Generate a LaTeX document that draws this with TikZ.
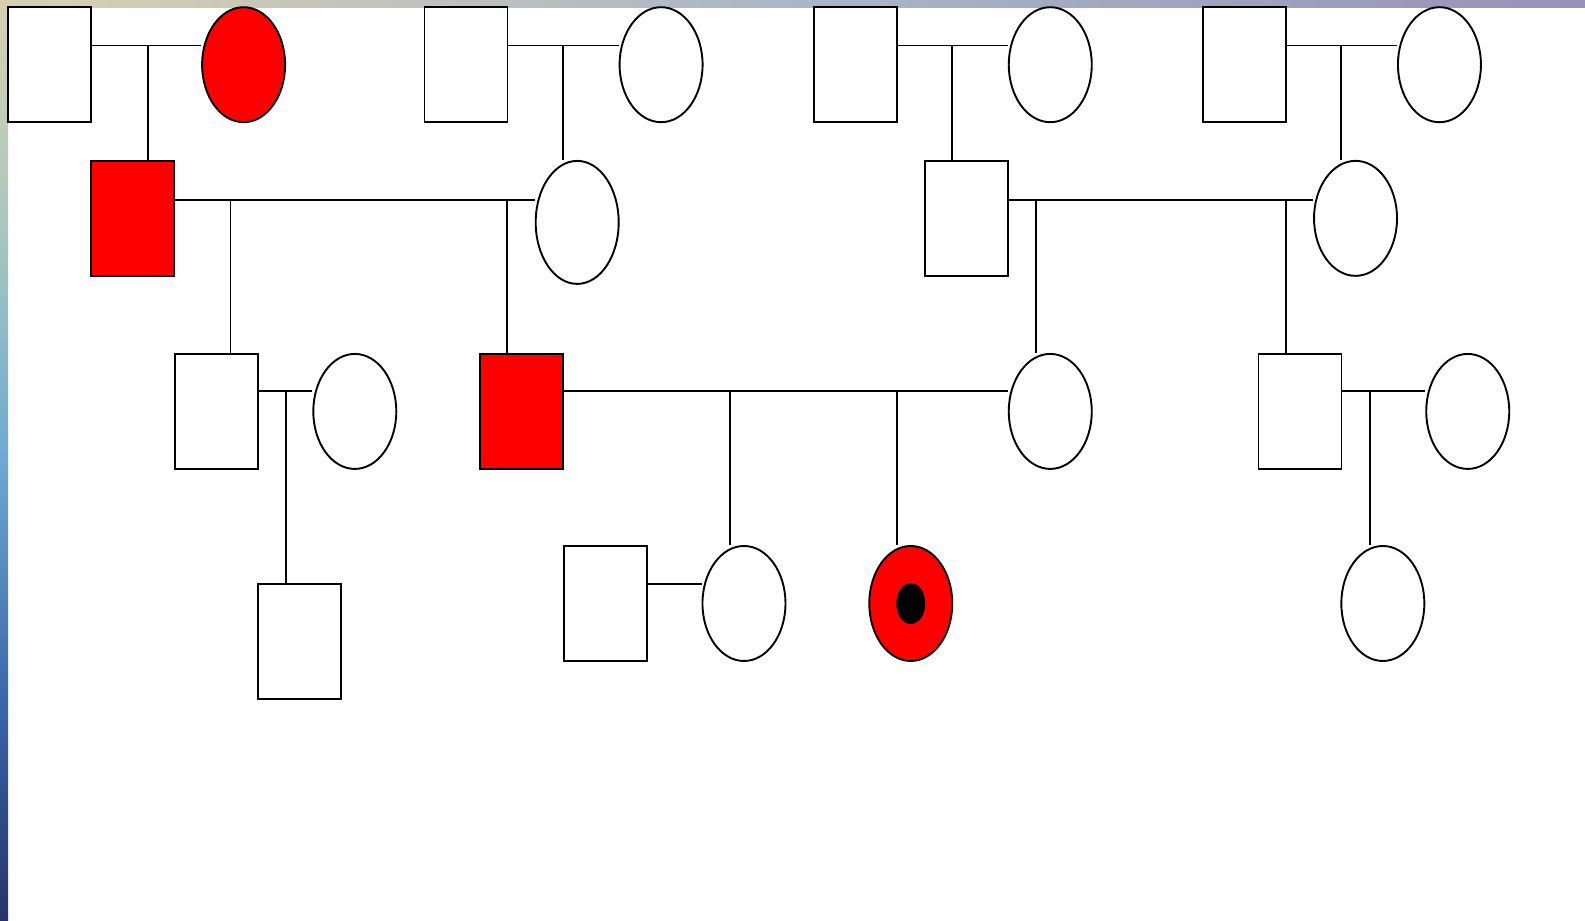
\documentclass[tikz,border=0pt]{standalone}
\usetikzlibrary{shapes.geometric}
\begin{document}
\begin{tikzpicture}[x=1.0108pt,y=-1.0108pt,
  male/.style={draw=black,line width=1.9pt,rectangle,minimum width=83pt,minimum height=115pt,inner sep=0pt,fill=white},
  female/.style={draw=black,line width=1.9pt,ellipse,minimum width=83pt,minimum height=115pt,inner sep=0pt,fill=white},
  aff/.style={fill=red},
  link/.style={draw=black,line width=1.9pt}]
\useasboundingbox (0,0) rectangle (1568,910.2);
\fill[white] (0,0) rectangle (1568,910.2);
% decorative strips
\shade[left color={rgb,255:red,216;green,208;blue,176},right color={rgb,255:red,168;green,182;blue,200}] (0,0) rectangle (800,7);
\shade[left color={rgb,255:red,168;green,182;blue,200},right color={rgb,255:red,152;green,146;blue,184}] (800,0) rectangle (1568,7);
\shade[top color={rgb,255:red,216;green,208;blue,176},bottom color={rgb,255:red,170;green,200;blue,190}] (0,0) rectangle (8,220);
\shade[top color={rgb,255:red,170;green,200;blue,190},bottom color={rgb,255:red,110;green,170;blue,210}] (0,220) rectangle (8,450);
\shade[top color={rgb,255:red,110;green,170;blue,210},bottom color={rgb,255:red,58;green,100;blue,170}] (0,450) rectangle (8,700);
\shade[top color={rgb,255:red,58;green,100;blue,170},bottom color={rgb,255:red,38;green,52;blue,105}] (0,700) rectangle (8,910.2);
% generation I
\node[male] (A) at (49,64) {};
\node[female,aff] (B) at (241,64) {};
\node[male] (C) at (461,64) {};
\node[female] (D) at (654,64) {};
\node[male] (E) at (846,64) {};
\node[female] (F) at (1039,64) {};
\node[male] (G) at (1231,64) {};
\node[female] (H) at (1424,64) {};
% generation II
\node[male,aff] (I) at (131,216) {};
\node[female,minimum height=123pt] (J) at (571,220) {};
\node[male] (K) at (956,216) {};
\node[female] (L) at (1341,216) {};
% generation III
\node[male] (M) at (214,407) {};
\node[female] (N) at (351,407) {};
\node[male,aff] (O) at (516,407) {};
\node[female] (P) at (1039,407) {};
\node[male] (Q) at (1286,407) {};
\node[female] (R) at (1452,407) {};
% generation IV
\node[male] (S) at (296,635) {};
\node[male] (T) at (599,597) {};
\node[female] (U) at (736,597) {};
\node[female,aff] (V) at (901,597) {};
\node[ellipse,fill=black,minimum width=29pt,minimum height=41pt,inner sep=0pt] (Vd) at (V.center) {};
\node[female] (W) at (1368,597) {};
% coordinates of marriage / sibship lines
\coordinate (m1) at (146,45);
\coordinate (m2) at (557,45);
\coordinate (m3) at (942,45);
\coordinate (m4) at (1327,45);
\coordinate (c1) at (228,198);
\coordinate (c2) at (502,198);
\coordinate (c3) at (1025,198);
\coordinate (c4) at (1272,198);
\coordinate (d1) at (283,387);
\coordinate (d2) at (722,387);
\coordinate (d3) at (887,387);
\coordinate (d4) at (1355,387);
\coordinate (e1) at (668,578);
% generation I links
\draw[link] (A.east |- m1) -- (B.west |- m1);
\draw[link] (m1) -- (m1 |- I.north);
\draw[link] (C.east |- m2) -- (D.west |- m2);
\draw[link] (m2) -- (m2 |- J.north);
\draw[link] (E.east |- m3) -- (F.west |- m3);
\draw[link] (m3) -- (m3 |- K.north);
\draw[link] (G.east |- m4) -- (H.west |- m4);
\draw[link] (m4) -- (m4 |- L.north);
% generation II links
\draw[link] (I.east |- c1) -- (J.west |- c1);
\draw[link] (c1) -- (c1 |- M.north);
\draw[link] (c2) -- (c2 |- O.north);
\draw[link] (K.east |- c3) -- (L.west |- c3);
\draw[link] (c3) -- (c3 |- P.north);
\draw[link] (c4) -- (c4 |- Q.north);
% generation III links
\draw[link] (M.east |- d1) -- (N.west |- d1);
\draw[link] (d1) -- (d1 |- S.north);
\draw[link] (O.east |- d2) -- (P.west |- d2);
\draw[link] (d2) -- (d2 |- U.north);
\draw[link] (d3) -- (d3 |- V.north);
\draw[link] (Q.east |- d4) -- (R.west |- d4);
\draw[link] (d4) -- (d4 |- W.north);
% generation IV link
\draw[link] (T.east |- e1) -- (U.west |- e1);
\end{tikzpicture}
\end{document}
